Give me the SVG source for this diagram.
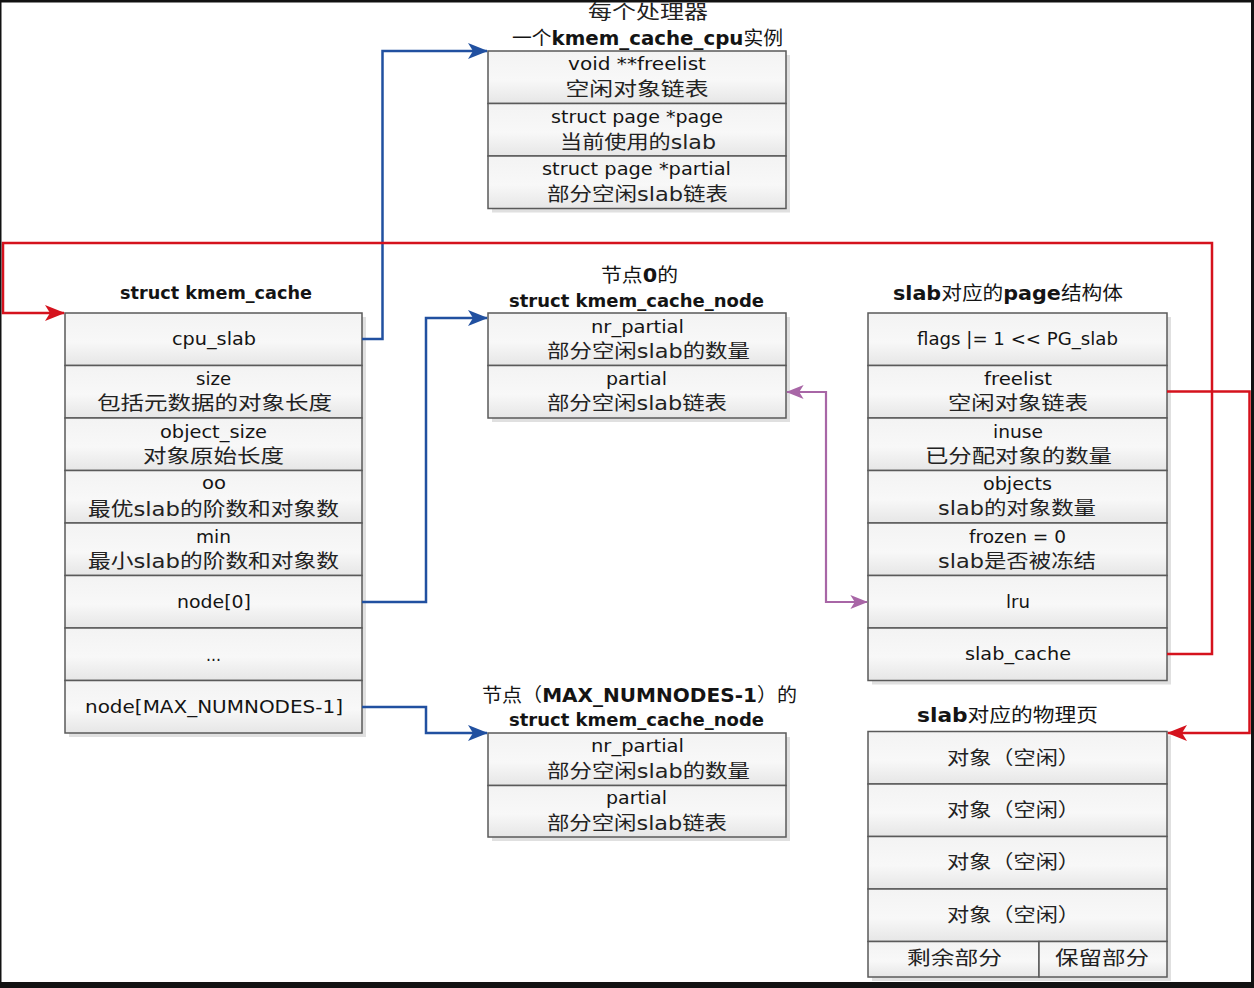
<svg xmlns="http://www.w3.org/2000/svg" width="1254" height="988" viewBox="0 0 1254 988">
<defs>
<linearGradient id="cell" x1="0" y1="0" x2="0" y2="1">
<stop offset="0" stop-color="#f3f3f3"/>
<stop offset="0.55" stop-color="#f8f8f8"/>
<stop offset="1" stop-color="#e6e6e6"/>
</linearGradient>
<marker id="ab" viewBox="0 0 20 16" refX="19" refY="8" markerWidth="20" markerHeight="16" markerUnits="userSpaceOnUse" orient="auto-start-reverse">
<path d="M0,0 L20,8 L0,16 L5,8 z" fill="#2150a0"/>
</marker>
<marker id="ar" viewBox="0 0 20 16" refX="19" refY="8" markerWidth="20" markerHeight="16" markerUnits="userSpaceOnUse" orient="auto-start-reverse">
<path d="M0,0 L20,8 L0,16 L5,8 z" fill="#d5121d"/>
</marker>
<marker id="ap" viewBox="0 0 20 16" refX="19" refY="8" markerWidth="18" markerHeight="14" markerUnits="userSpaceOnUse" orient="auto-start-reverse">
<path d="M0,0 L20,8 L0,16 L5,8 z" fill="#a866a6"/>
</marker>
</defs>
<style>
.c{fill:url(#cell);stroke:#5a5a5a;stroke-width:1.5}
.sh{fill:#e0e0e0}
text{font-family:"DejaVu Sans","Noto Sans CJK SC",sans-serif;text-anchor:middle;fill:#141414}
.l{font-size:17px}
.z{font-size:19px;fill:#222}
.b{font-size:17px;font-weight:bold}
.bz{font-size:19px;font-weight:bold}
.n{font-weight:normal}
.blue{fill:none;stroke:#2150a0;stroke-width:2.5}
.red{fill:none;stroke:#d5121d;stroke-width:2.5}
.pur{fill:none;stroke:#a866a6;stroke-width:2.2}
</style>
<rect x="0" y="0" width="1254" height="988" fill="#ffffff"/>

<g id="kmem_cache_cpu">
<rect class="sh" x="492" y="55" width="298" height="157.5"/>
<rect class="c" x="488" y="51" width="298" height="52.5"/>
<rect class="c" x="488" y="103.5" width="298" height="52.5"/>
<rect class="c" x="488" y="156" width="298" height="52.5"/>
<text class="z" x="648" y="19" textLength="120" lengthAdjust="spacingAndGlyphs">每个处理器</text>
<text class="bz" x="647.5" y="45" textLength="271" lengthAdjust="spacingAndGlyphs"><tspan class="n">一个</tspan>kmem_cache_cpu<tspan class="n">实例</tspan></text>
<text class="l" x="637" y="70" textLength="138" lengthAdjust="spacingAndGlyphs">void **freelist</text>
<text class="z" x="637" y="96" textLength="143" lengthAdjust="spacingAndGlyphs">空闲对象链表</text>
<text class="l" x="637" y="123" textLength="172" lengthAdjust="spacingAndGlyphs">struct page *page</text>
<text class="z" x="638" y="149" textLength="156" lengthAdjust="spacingAndGlyphs">当前使用的slab</text>
<text class="l" x="636.5" y="175" textLength="189" lengthAdjust="spacingAndGlyphs">struct page *partial</text>
<text class="z" x="637.5" y="201" textLength="181" lengthAdjust="spacingAndGlyphs">部分空闲slab链表</text>
</g>

<g id="kmem_cache">
<rect class="sh" x="69" y="317" width="297" height="420"/>
<rect class="c" x="65" y="313" width="297" height="52.5"/>
<rect class="c" x="65" y="365.5" width="297" height="52.5"/>
<rect class="c" x="65" y="418" width="297" height="52.5"/>
<rect class="c" x="65" y="470.5" width="297" height="52.5"/>
<rect class="c" x="65" y="523" width="297" height="52.5"/>
<rect class="c" x="65" y="575.5" width="297" height="52.5"/>
<rect class="c" x="65" y="628" width="297" height="52.5"/>
<rect class="c" x="65" y="680.5" width="297" height="52.5"/>
<text class="b" x="216" y="299" textLength="192" lengthAdjust="spacingAndGlyphs">struct kmem_cache</text>
<text class="l" x="214" y="345" textLength="84" lengthAdjust="spacingAndGlyphs">cpu_slab</text>
<text class="l" x="213.5" y="385" textLength="35" lengthAdjust="spacingAndGlyphs">size</text>
<text class="z" x="214.5" y="410" textLength="235" lengthAdjust="spacingAndGlyphs">包括元数据的对象长度</text>
<text class="l" x="213.5" y="438" textLength="107" lengthAdjust="spacingAndGlyphs">object_size</text>
<text class="z" x="213.5" y="463" textLength="141" lengthAdjust="spacingAndGlyphs">对象原始长度</text>
<text class="l" x="214" y="489" textLength="24" lengthAdjust="spacingAndGlyphs">oo</text>
<text class="z" x="213.5" y="516" textLength="251" lengthAdjust="spacingAndGlyphs">最优slab的阶数和对象数</text>
<text class="l" x="213.5" y="543" textLength="35" lengthAdjust="spacingAndGlyphs">min</text>
<text class="z" x="213.5" y="568" textLength="251" lengthAdjust="spacingAndGlyphs">最小slab的阶数和对象数</text>
<text class="l" x="214" y="608" textLength="74" lengthAdjust="spacingAndGlyphs">node[0]</text>
<text class="l" x="213.5" y="661" textLength="15" lengthAdjust="spacingAndGlyphs">...</text>
<text class="l" x="214" y="713" textLength="258" lengthAdjust="spacingAndGlyphs">node[MAX_NUMNODES-1]</text>
</g>

<g id="kmem_cache_node_0">
<rect class="sh" x="492" y="317" width="298" height="105"/>
<rect class="c" x="488" y="313" width="298" height="52.5"/>
<rect class="c" x="488" y="365.5" width="298" height="52.5"/>
<text class="bz" x="639.5" y="282" textLength="77" lengthAdjust="spacingAndGlyphs"><tspan class="n">节点</tspan>0<tspan class="n">的</tspan></text>
<text class="b" x="636.5" y="307" textLength="255" lengthAdjust="spacingAndGlyphs">struct kmem_cache_node</text>
<text class="l" x="637.5" y="333" textLength="93" lengthAdjust="spacingAndGlyphs">nr_partial</text>
<text class="z" x="648.5" y="358" textLength="203" lengthAdjust="spacingAndGlyphs">部分空闲slab的数量</text>
<text class="l" x="636.5" y="385" textLength="61" lengthAdjust="spacingAndGlyphs">partial</text>
<text class="z" x="637" y="410" textLength="180" lengthAdjust="spacingAndGlyphs">部分空闲slab链表</text>
</g>

<g id="kmem_cache_node_max">
<rect class="sh" x="492" y="737" width="298" height="104"/>
<rect class="c" x="488" y="733" width="298" height="52.5"/>
<rect class="c" x="488" y="785.5" width="298" height="51.5"/>
<text class="bz" x="639.5" y="702" textLength="315" lengthAdjust="spacingAndGlyphs"><tspan class="n">节点（</tspan>MAX_NUMNODES-1<tspan class="n">）的</tspan></text>
<text class="b" x="636.5" y="726" textLength="255" lengthAdjust="spacingAndGlyphs">struct kmem_cache_node</text>
<text class="l" x="637.5" y="752" textLength="93" lengthAdjust="spacingAndGlyphs">nr_partial</text>
<text class="z" x="648.5" y="778" textLength="203" lengthAdjust="spacingAndGlyphs">部分空闲slab的数量</text>
<text class="l" x="636.5" y="804" textLength="61" lengthAdjust="spacingAndGlyphs">partial</text>
<text class="z" x="637" y="830" textLength="180" lengthAdjust="spacingAndGlyphs">部分空闲slab链表</text>
</g>

<g id="page_struct">
<rect class="sh" x="872" y="317" width="299" height="367.5"/>
<rect class="c" x="868" y="313" width="299" height="52.5"/>
<rect class="c" x="868" y="365.5" width="299" height="52.5"/>
<rect class="c" x="868" y="418" width="299" height="52.5"/>
<rect class="c" x="868" y="470.5" width="299" height="52.5"/>
<rect class="c" x="868" y="523" width="299" height="52.5"/>
<rect class="c" x="868" y="575.5" width="299" height="52.5"/>
<rect class="c" x="868" y="628" width="299" height="52.5"/>
<text class="bz" x="1008" y="300" textLength="230" lengthAdjust="spacingAndGlyphs">slab<tspan class="n">对应的</tspan>page<tspan class="n">结构体</tspan></text>
<text class="l" x="1017.5" y="345" textLength="201" lengthAdjust="spacingAndGlyphs">flags |= 1 &lt;&lt; PG_slab</text>
<text class="l" x="1018" y="385" textLength="68" lengthAdjust="spacingAndGlyphs">freelist</text>
<text class="z" x="1018" y="410" textLength="140" lengthAdjust="spacingAndGlyphs">空闲对象链表</text>
<text class="l" x="1018" y="438" textLength="50" lengthAdjust="spacingAndGlyphs">inuse</text>
<text class="z" x="1018.5" y="463" textLength="187" lengthAdjust="spacingAndGlyphs">已分配对象的数量</text>
<text class="l" x="1017.5" y="490" textLength="69" lengthAdjust="spacingAndGlyphs">objects</text>
<text class="z" x="1017" y="515" textLength="158" lengthAdjust="spacingAndGlyphs">slab的对象数量</text>
<text class="l" x="1017.5" y="543" textLength="97" lengthAdjust="spacingAndGlyphs">frozen = 0</text>
<text class="z" x="1017" y="568" textLength="158" lengthAdjust="spacingAndGlyphs">slab是否被冻结</text>
<text class="l" x="1018" y="608" textLength="24" lengthAdjust="spacingAndGlyphs">lru</text>
<text class="l" x="1018" y="660" textLength="106" lengthAdjust="spacingAndGlyphs">slab_cache</text>
</g>

<g id="physical_page">
<rect class="sh" x="872" y="735.5" width="299" height="245.5"/>
<rect class="c" x="868" y="731.5" width="299" height="52.5"/>
<rect class="c" x="868" y="784" width="299" height="52.5"/>
<rect class="c" x="868" y="836.5" width="299" height="52.5"/>
<rect class="c" x="868" y="889" width="299" height="52.5"/>
<rect class="c" x="868" y="941.5" width="171" height="35.5"/>
<rect class="c" x="1039" y="941.5" width="128" height="35.5"/>
<text class="bz" x="1007.5" y="722" textLength="181" lengthAdjust="spacingAndGlyphs">slab<tspan class="n">对应的物理页</tspan></text>
<text class="z" x="1013.5" y="765" textLength="133" lengthAdjust="spacingAndGlyphs">对象（空闲）</text>
<text class="z" x="1013.5" y="817" textLength="133" lengthAdjust="spacingAndGlyphs">对象（空闲）</text>
<text class="z" x="1013.5" y="869" textLength="133" lengthAdjust="spacingAndGlyphs">对象（空闲）</text>
<text class="z" x="1013.5" y="922" textLength="133" lengthAdjust="spacingAndGlyphs">对象（空闲）</text>
<text class="z" x="954.5" y="965" textLength="95" lengthAdjust="spacingAndGlyphs">剩余部分</text>
<text class="z" x="1102" y="965" textLength="94" lengthAdjust="spacingAndGlyphs">保留部分</text>
</g>

<g id="connectors">
<polyline class="blue" points="362,339 382.5,339 382.5,51 487,51" marker-end="url(#ab)"/>
<polyline class="blue" points="362,602 426,602 426,318 487,318" marker-end="url(#ab)"/>
<polyline class="blue" points="362,707 426,707 426,733 487,733" marker-end="url(#ab)"/>
<polyline class="red" points="1167,654 1212,654 1212,243 3,243 3,313 64,313" marker-end="url(#ar)"/>
<polyline class="red" points="1167,391.5 1249.5,391.5 1249.5,733 1168,733" marker-end="url(#ar)"/>
<polyline class="pur" points="787,392 826,392 826,602 867,602" marker-start="url(#ap)" marker-end="url(#ap)"/>
</g>

<g id="frame">
<rect x="0" y="0" width="1254" height="2.5" fill="#121212"/>
<rect x="1251" y="0" width="3" height="988" fill="#121212"/>
<rect x="0" y="982" width="1254" height="6" fill="#121212"/>
<rect x="0" y="0" width="1.5" height="988" fill="#121212"/>
</g>
</svg>
